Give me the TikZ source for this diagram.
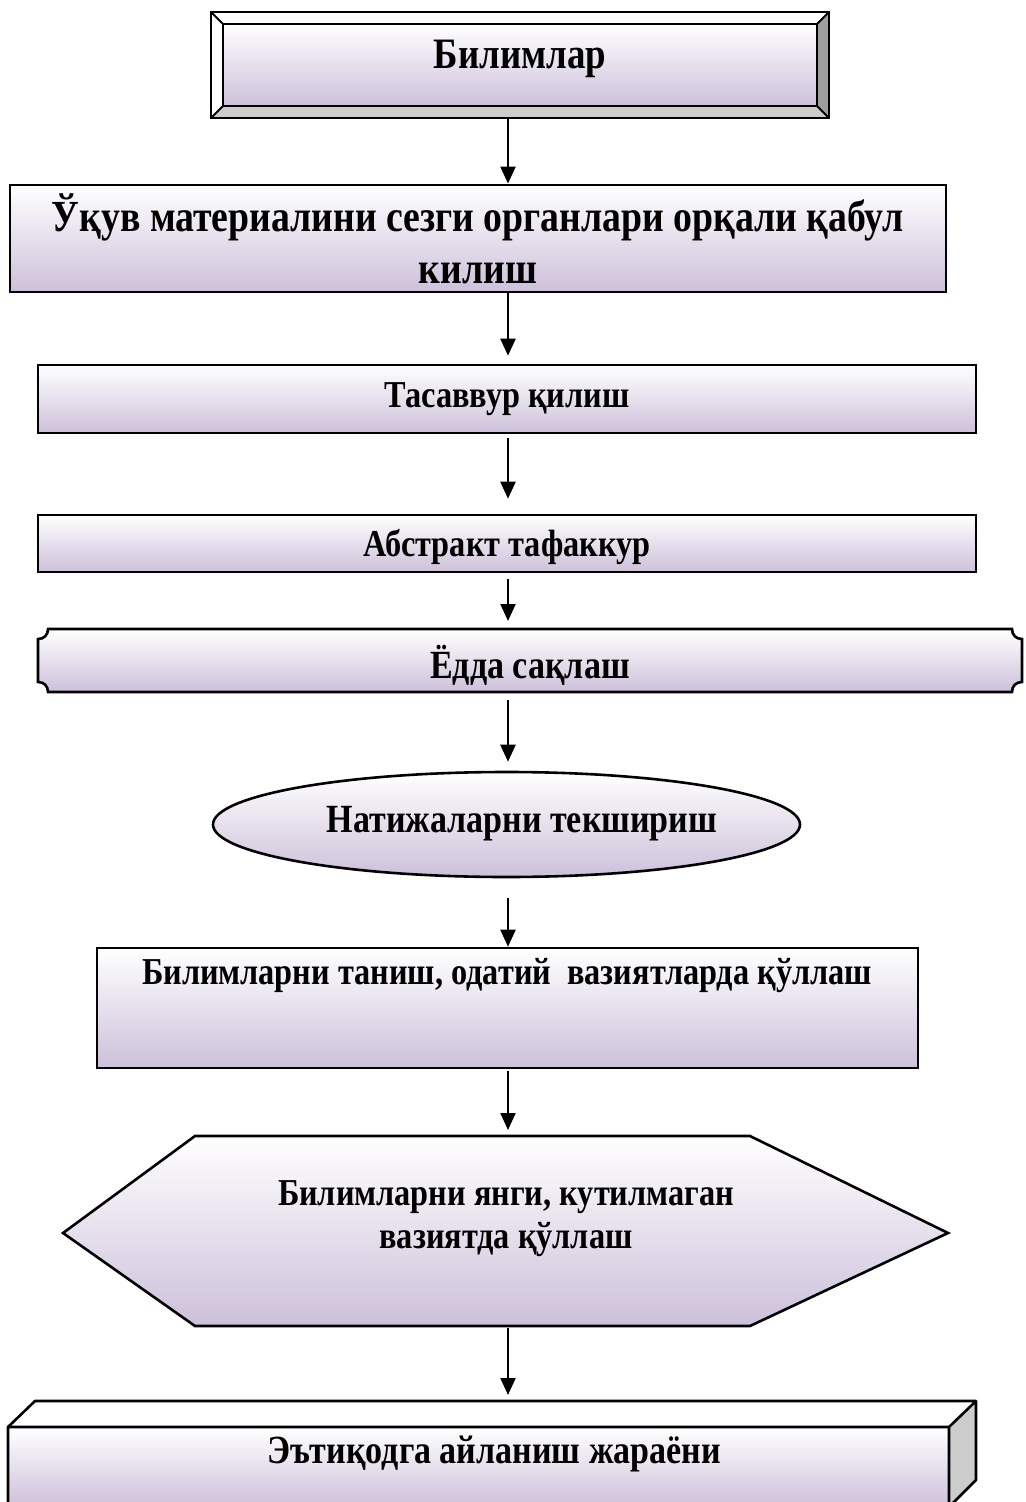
\documentclass[tikz,border=0pt]{standalone}
\usepackage{fontspec}
\setmainfont{Liberation Serif}[FakeStretch=0.85]
\usetikzlibrary{shapes.geometric,arrows.meta,calc}
\definecolor{lav}{RGB}{205,192,218}
\tikzset{
  box/.style={draw,line width=1.3pt,top color=white,bottom color=lav,inner sep=0pt},
  lbl/.style={font=\bfseries\fontsize{19}{21.5}\selectfont,align=center},
  widelbl/.style={font=\bfseries\fontsize{20}{24}\selectfont,align=center},
  biglbl/.style={font=\bfseries\fontsize{22.2}{26}\selectfont,align=center},
  arr/.style={line width=1.1pt,-{Triangle[length=8.5pt,width=7.5pt]}},
  ghost/.style={inner sep=0pt,outer sep=0pt},
}

\begin{document}
\begin{tikzpicture}[x=0.5pt,y=-0.5pt]
  \useasboundingbox (0,0) rectangle (1025,1502);
  \coordinate (axis) at (508,0);

  % top bevelled frame
  \fill[white] (211,12) rectangle (829,118);
  \fill[gray!75] (829,12) -- (817,24) -- (817,106) -- (829,118) -- cycle;
  \fill[gray!40] (211,118) -- (223,106) -- (817,106) -- (829,118) -- cycle;
  \shade[top color=white,bottom color=lav] (223,24) rectangle (817,106);
  \draw[line width=1pt] (211,12) rectangle (829,118) (223,24) rectangle (817,106);
  \draw[line width=1pt] (211,12) -- (223,24) (829,12) -- (817,24)
    (211,118) -- (223,106) (829,118) -- (817,106);
  \node[ghost,minimum width=309pt,minimum height=53pt] (know) at (520,65) {};
  \node[font=\bfseries\fontsize{21.7}{24}\selectfont] at (520,59) {Билимлар};

  % plain boxes
  \node[box,line width=1.4pt,minimum width=468pt,minimum height=53.5pt] (receive) at (478,238.5) {};
  \node[biglbl] at (478,239) {Ўқув материалини сезги органлари орқали қабул\\килиш};
  \node[box,lbl,minimum width=469pt,minimum height=34pt] (imagine) at (507,399) {Тасаввур қилиш};
  \node[box,minimum width=469pt,minimum height=28.5pt] (abstract) at (507,543.5) {};
  \node[lbl] at (507,547) {Абстракт тафаккур};

  % plaque
  \draw[box] (48,629) -- (1012,629) .. controls (1012,635) and (1016,639) .. (1022,639)
    -- (1022,682) .. controls (1016,682) and (1012,686) .. (1012,692)
    -- (48,692) .. controls (48,686) and (44,682) .. (38,682)
    -- (38,639) .. controls (44,639) and (48,635) .. (48,629) -- cycle;
  \node[ghost,minimum width=492pt,minimum height=31.5pt] (memory) at (530,660.5) {};
  \node[widelbl] at (530,665) {Ёдда сақлаш};

  % ellipse
  \node[box,ellipse,minimum width=293.5pt,minimum height=52.5pt] (check) at (506.5,824.5) {};
  \node[widelbl] at (522,824) {Натижаларни текшириш};

  \node[box,minimum width=410.5pt,minimum height=60pt] (apply) at (507.5,1008) {};
  \node[lbl] at (507,976) {Билимларни таниш, одатий \ вазиятларда қўллаш};

  % hexagon
  \draw[box] (63,1233) -- (195,1136) -- (750,1136) -- (948,1233) -- (750,1326) -- (195,1326) -- cycle;
  \node[ghost,minimum width=442.5pt,minimum height=95pt] (novel) at (505.5,1231) {};
  \node[lbl] at (506,1219) {Билимларни янги, кутилмаган\\вазиятда қўллаш};

  % block at the bottom
  \fill[white] (8,1427) -- (35,1401) -- (976,1401) -- (949,1427) -- cycle;
  \fill[gray!40] (949,1427) -- (976,1401) -- (976,1480) -- (949,1507) -- cycle;
  \shade[top color=white,bottom color=lav] (8,1427) rectangle (949,1507);
  \draw[line width=1.3pt,line join=round] (8,1507) -- (8,1427) -- (35,1401) -- (976,1401) -- (976,1480) -- (949,1507)
    (8,1427) -- (949,1427) -- (976,1401) (949,1427) -- (949,1507);
  \node[ghost,minimum width=484pt,minimum height=50.5pt] (belief) at (492,1451.5) {};
  \node[widelbl] at (494,1454) {Эътиқодга айланиш жараёни};

  % arrows
  \foreach \a/\b/\s/\e in {know/receive/0/0, receive/imagine/0/8, imagine/abstract/4/15,
      abstract/memory/6/8, memory/check/8/9, check/apply/20/0, apply/novel/2/6, novel/belief/2/6}
    \draw[arr,shorten <=\s*0.5pt,shorten >=\e*0.5pt] (\a.south -| axis) -- (\b.north -| axis);
\end{tikzpicture}
\end{document}
